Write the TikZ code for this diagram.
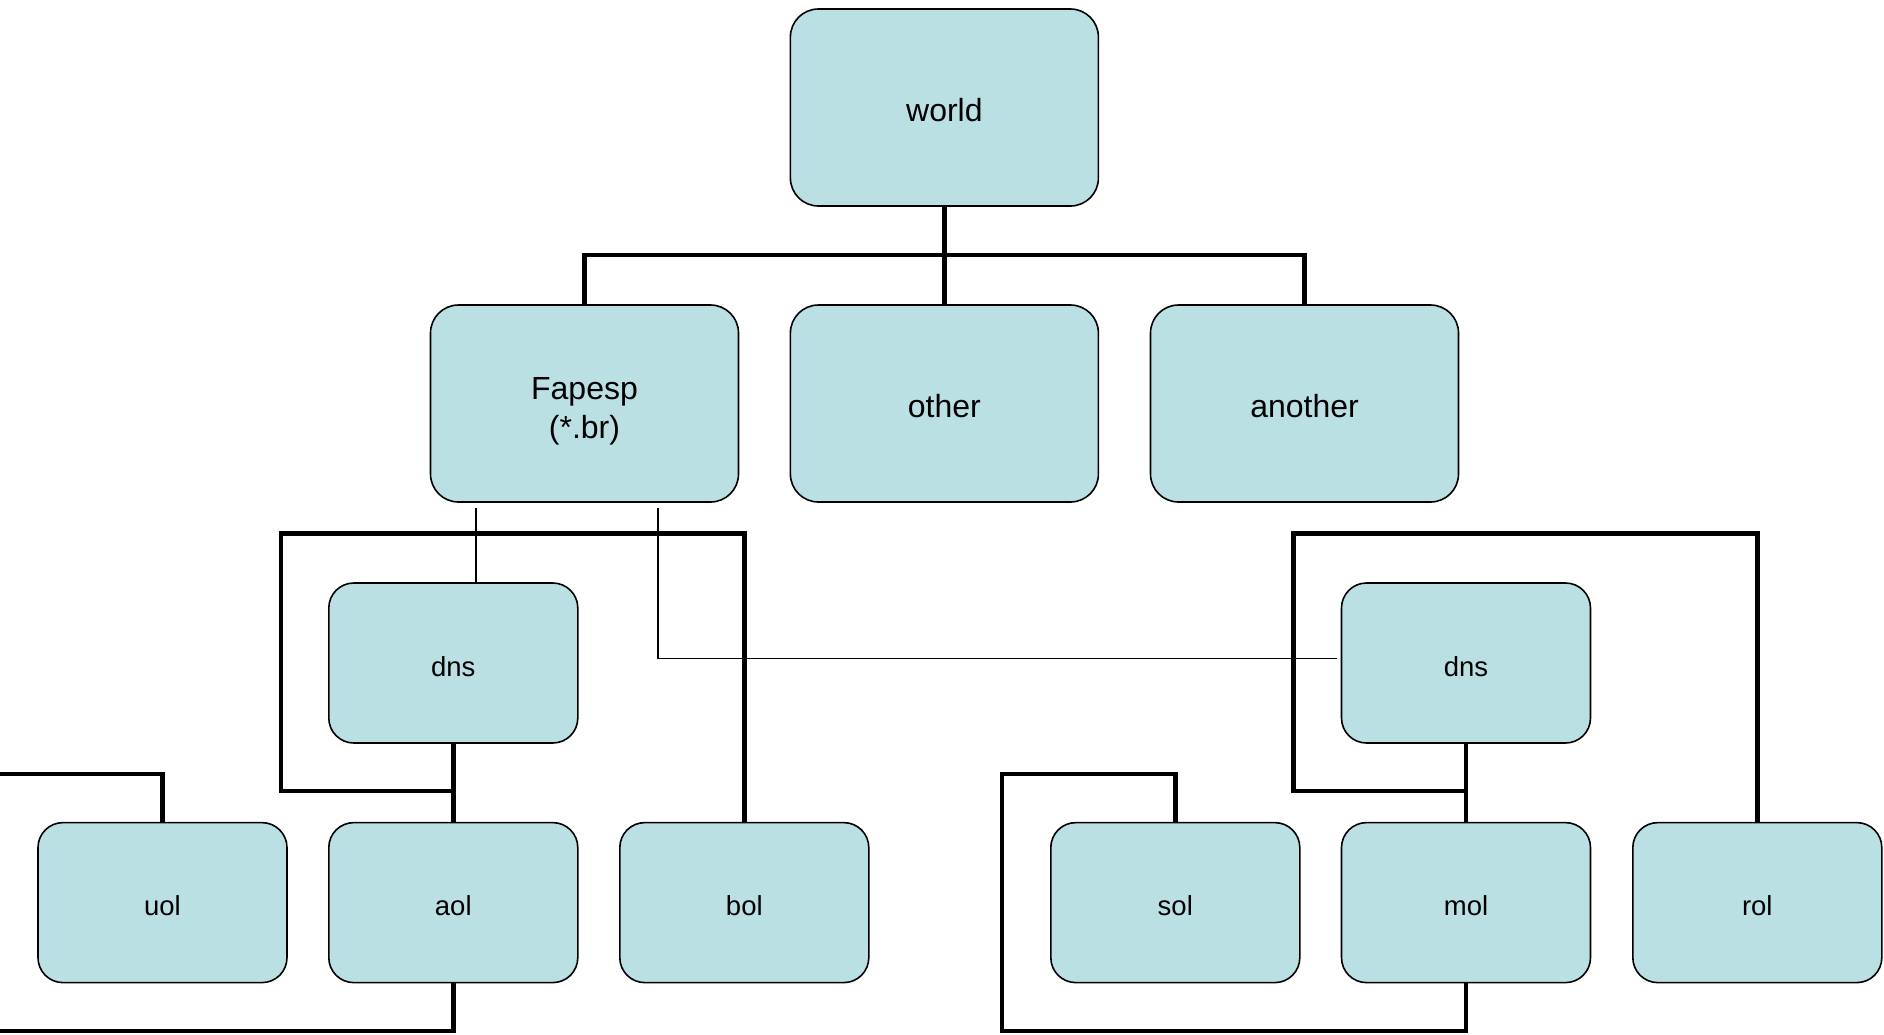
\documentclass[tikz,border=0pt]{standalone}
\usepackage{fontspec}
\setmainfont{Liberation Sans}
\definecolor{boxfill}{HTML}{BBE0E3}
\begin{document}
\begin{tikzpicture}[x=1pt,y=-1pt,
  boxbase/.style={draw=black, line width=1.6pt, fill=boxfill, inner sep=0pt, align=center},
  bigbox/.style={boxbase, rounded corners=28pt,
    minimum width=308pt, minimum height=197pt,
    font=\fontsize{32}{38.5}\selectfont, text height=28pt, text depth=0pt},
  twoline/.style={text height=76pt, text depth=6.7pt},
  smallbox/.style={boxbase, rounded corners=25pt,
    minimum width=249pt, minimum height=160pt,
    font=\fontsize{27.5}{32}\selectfont, text height=26.5pt, text depth=0pt},
  heavy/.style={draw=black, line width=4.5pt},
  light/.style={draw=black, line width=1.3pt}]
\useasboundingbox (0,0) rectangle (1884,1034);

% top levels
\node[bigbox] (world) at (944.4,107.5) {world};
\node[bigbox, twoline] (fapesp) at (584.5,403.5) {Fapesp\\(*.br)};
\node[bigbox] (other) at (944.4,403.5) {other};
\node[bigbox] (another) at (1304.5,403.5) {another};

% dns level
\node[smallbox] (dnsA) at (453.3,663) {dns};
\node[smallbox] (dnsB) at (1466,663) {dns};

% leaves
\node[smallbox] (uol) at (162.5,902.6) {uol};
\node[smallbox] (aol) at (453.3,902.6) {aol};
\node[smallbox] (bol) at (744.3,902.6) {bol};
\node[smallbox] (sol) at (1175.3,902.6) {sol};
\node[smallbox] (mol) at (1466,902.6) {mol};
\node[smallbox] (rol) at (1757.3,902.6) {rol};

% helper coordinates
\coordinate (busY) at (0,255);
\coordinate (brLtop) at (281,533.7);
\coordinate (brRtop) at (1293.6,533.7);
\coordinate (midY) at (0,791);
\coordinate (edgeL) at (0,774);
\coordinate (bottomL) at (0,1031);
\coordinate (solTurn) at (1001.8,774);
\coordinate (solBot) at (1001.8,1031);
\coordinate (thinA) at (476,507.6);
\coordinate (thinB) at (658,507.6);
\coordinate (thinEnd) at (1337,658.8);

% world tree
\draw[heavy] (world.south) -- (other.north);
\draw[heavy] (fapesp.north) -- (fapesp.north |- busY) -| (another.north);

% left brackets
\draw[heavy] (dnsA.south) -- (aol.north);
\draw[heavy] (aol.north |- midY) -| (brLtop) -| (bol.north);
\draw[heavy] (edgeL) -| (uol.north);
\draw[heavy] (aol.south) |- (bottomL);

% right brackets
\draw[heavy] (dnsB.south) -- (mol.north);
\draw[heavy] (mol.north |- midY) -| (brRtop) -| (rol.north);
\draw[heavy] (sol.north) |- (solTurn) -- (solBot) -| (mol.south);

% thin links
\draw[light] (thinA) -- (thinA |- dnsA.north);
\draw[light] (thinB) |- (thinEnd);
\end{tikzpicture}
\end{document}
